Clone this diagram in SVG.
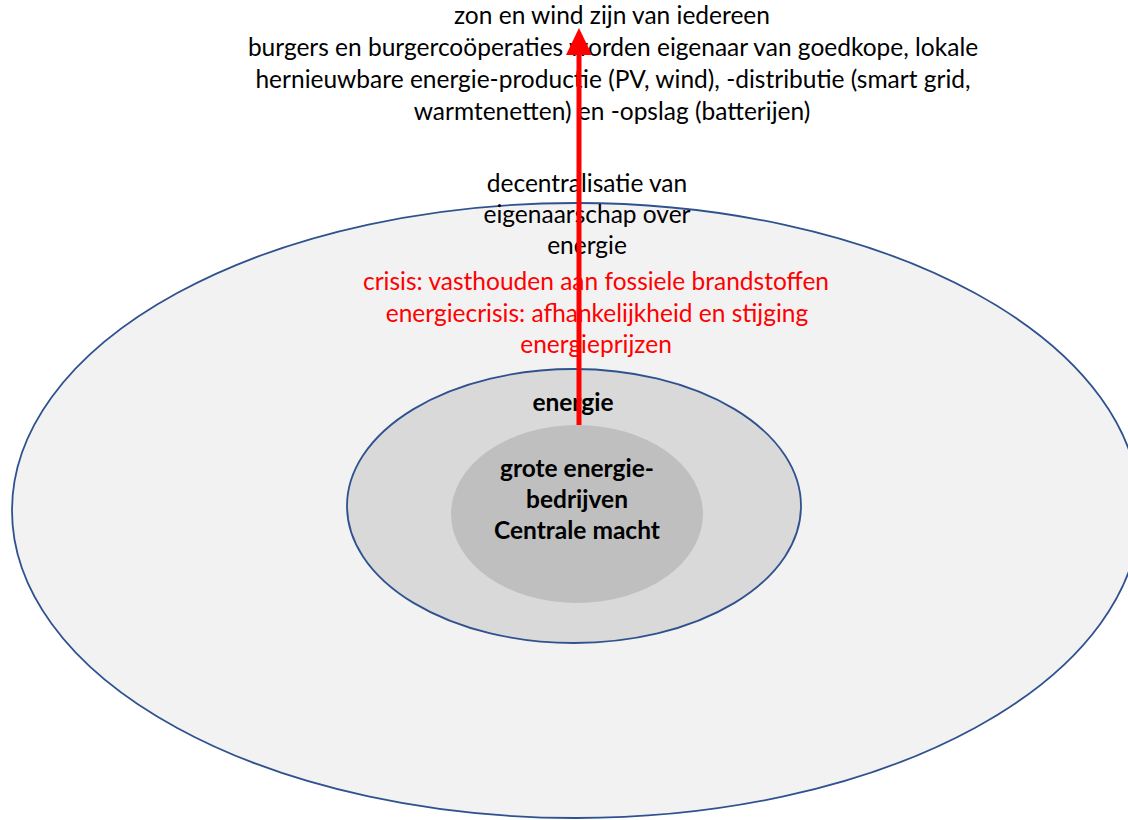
<svg xmlns="http://www.w3.org/2000/svg" width="1128" height="820" viewBox="0 0 1128 820">
<style>
.t{font-family:Lato,"Open Sans","Liberation Sans",sans-serif;font-size:24.5px;text-anchor:middle;fill:#000}
.r{fill:#FF0000}
.b{font-weight:bold}
.ring{stroke:#2F528F;stroke-width:1.8}
</style>
<defs>
<marker id="ah" markerUnits="userSpaceOnUse" markerWidth="28" markerHeight="28" refX="0" refY="0" viewBox="0 -14 28 28" orient="auto" overflow="visible">
<path d="M0,-13 L27,0 L0,13 Z" fill="#FF0000"/>
</marker>
</defs>
<rect width="1128" height="820" fill="#fff"/>
<g id="outer">
<ellipse class="ring" cx="576" cy="510.5" rx="564" ry="307.5" fill="#F2F2F2"/>
</g>
<g id="middle">
<ellipse class="ring" cx="574" cy="506" rx="227" ry="137" fill="#D9D9D9"/>
<text class="t b" x="573" y="411">energie</text>
</g>
<g id="inner">
<ellipse cx="577" cy="514" rx="126" ry="89" fill="#BFBFBF"/>
<text class="t b" x="577" y="477">grote energie-</text>
<text class="t b" x="577" y="508">bedrijven</text>
<text class="t b" x="577" y="539">Centrale macht</text>
</g>
<g id="top-text">
<text class="t" x="612" y="24">zon en wind zijn van iedereen</text>
<text class="t" x="613" y="56">burgers en burgercoöperaties worden eigenaar van goedkope, lokale</text>
<text class="t" x="613" y="88">hernieuwbare energie-productie (PV, wind), -distributie (smart grid,</text>
<text class="t" x="612" y="120">warmtenetten) en -opslag (batterijen)</text>
</g>
<g id="mid-text">
<text class="t" x="587" y="192">decentralisatie van</text>
<text class="t" x="587" y="223">eigenaarschap over</text>
<text class="t" x="587" y="254">energie</text>
<text class="t r" x="596" y="290">crisis: vasthouden aan fossiele brandstoffen</text>
<text class="t r" x="597" y="322">energiecrisis: afhankelijkheid en stijging</text>
<text class="t r" x="596" y="353">energieprijzen</text>
</g>
<g id="connectors">
<line x1="579" y1="425" x2="579" y2="55" stroke="#FF0000" stroke-width="5" marker-end="url(#ah)"/>
</g>
</svg>
